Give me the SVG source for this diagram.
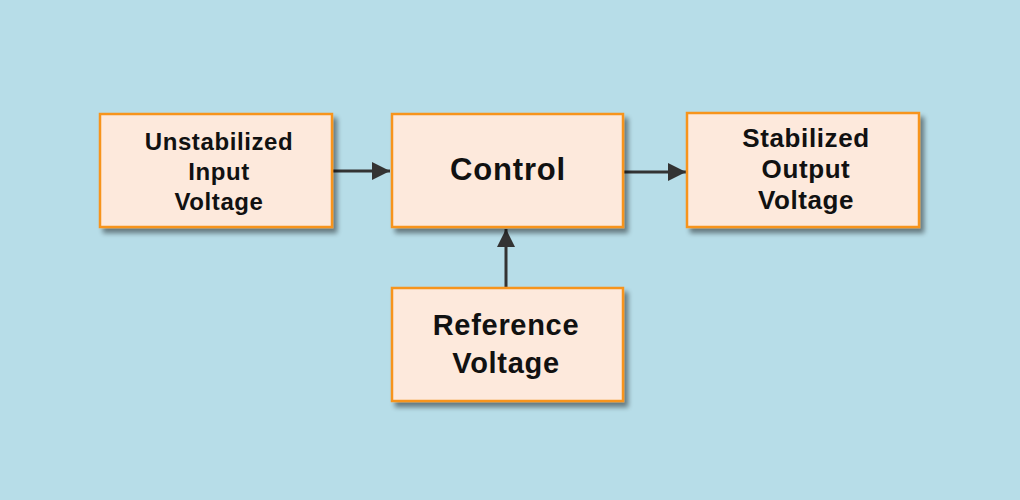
<svg xmlns="http://www.w3.org/2000/svg" width="1020" height="500" viewBox="0 0 1020 500">
  <defs>
    <filter id="shadow" x="-10%" y="-10%" width="125%" height="130%">
      <feGaussianBlur in="SourceAlpha" stdDeviation="2.5"/>
      <feOffset dx="4" dy="5" result="b"/>
      <feComponentTransfer><feFuncA type="linear" slope="0.45"/></feComponentTransfer>
      <feMerge><feMergeNode/><feMergeNode in="SourceGraphic"/></feMerge>
    </filter>
    <marker id="arrow" viewBox="0 0 10 10" refX="10" refY="5" markerWidth="7" markerHeight="6" markerUnits="strokeWidth" orient="auto">
      <path d="M0,0 L10,5 L0,10 z" fill="#333333"/>
    </marker>
  </defs>
  <style>
    .box { fill: #fde9dc; stroke: #f7941d; stroke-width: 2.5; filter: url(#shadow); }
    .lbl { font-family: "Liberation Sans", Arial, sans-serif; font-weight: bold; fill: #111111; text-anchor: middle; }
    .conn { stroke: #333333; stroke-width: 3; fill: none; marker-end: url(#arrow); }
  </style>
  <rect width="1020" height="500" fill="#b7dde8"/>
  <g id="connectors">
    <line class="conn" x1="333" y1="171" x2="390" y2="171"/>
    <line class="conn" x1="624" y1="172" x2="686" y2="172"/>
    <line class="conn" x1="506" y1="288" x2="506" y2="229"/>
  </g>
  <g id="node-input">
    <rect class="box" x="100" y="114" width="232" height="113"/>
    <text class="lbl" font-size="24" letter-spacing="0.6" x="219" y="150">Unstabilized</text>
    <text class="lbl" font-size="24" letter-spacing="0.6" x="219" y="180">Input</text>
    <text class="lbl" font-size="24" letter-spacing="0.6" x="219" y="210">Voltage</text>
  </g>
  <g id="node-control">
    <rect class="box" x="392" y="114" width="231" height="113"/>
    <text class="lbl" font-size="31" letter-spacing="0.8" x="508" y="180">Control</text>
  </g>
  <g id="node-output">
    <rect class="box" x="687" y="113" width="232" height="114"/>
    <text class="lbl" font-size="26" letter-spacing="0.6" x="806" y="147">Stabilized</text>
    <text class="lbl" font-size="26" letter-spacing="0.6" x="806" y="178">Output</text>
    <text class="lbl" font-size="26" letter-spacing="0.6" x="806" y="209">Voltage</text>
  </g>
  <g id="node-reference">
    <rect class="box" x="392" y="288" width="231" height="113"/>
    <text class="lbl" font-size="29" letter-spacing="0.7" x="506" y="335">Reference</text>
    <text class="lbl" font-size="29" letter-spacing="0.7" x="506" y="373">Voltage</text>
  </g>
</svg>
